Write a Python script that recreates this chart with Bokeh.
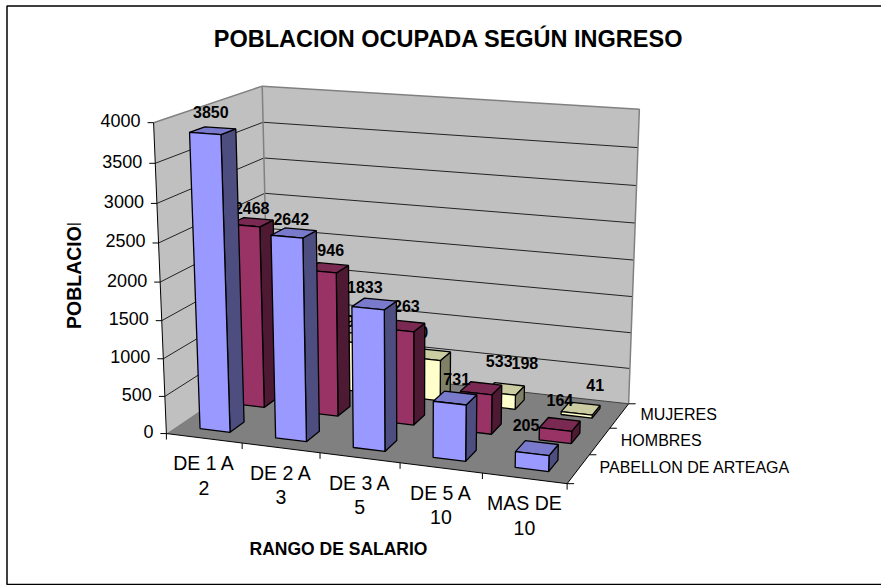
import numpy as np
from bokeh.plotting import figure
from bokeh.models import Range1d
from bokeh.embed import file_html
from bokeh.resources import INLINE
from bokeh.core.properties import value

TITLE = "POBLACION OCUPADA SEGÚN INGRESO"
XTITLE = "RANGO DE SALARIO"
YTITLE = "POBLACION"
CATEGORIES = ["DE 1 A\n2", "DE 2 A\n3", "DE 3 A\n5", "DE 5 A\n10", "MAS DE\n10"]
SERIES = ["PABELLON DE ARTEAGA", "HOMBRES", "MUJERES"]
PABELLON = [3850, 2642, 1833, 731, 205]
HOMBRES = [2468, 1946, 1263, 533, 164]
MUJERES = [1382, 696, 570, 198, 41]
YTICKS = [0, 500, 1000, 1500, 2000, 2500, 3000, 3500, 4000]
YMAX = 4000

VALUES = [PABELLON, HOMBRES, MUJERES]
COLORS = [("#9999FF", "#4D4D80", "#7A7ACC"),
          ("#993366", "#4D1933", "#7A2952"),
          ("#FFFFCC", "#808066", "#CCCCA3")]
# nudges of the value labels, which the reference places unevenly (pixels)
LABEL_SHIFT = [[(-2, -2), (-2.5, 3), (-9.5, 0), (1.5, -2), (-11, -6)],
               [(0, 3), (-1, -1), (-2, -3), (18, -10), (0, -7)],
               [(0, 0), (-8, 0), (-16, -6), (20, -9), (14.5, -6)]]
FONT = value("Liberation Sans")
TICK_FS, LABEL_FS, TITLE_FS, AX_FS, SER_FS, CAT_FS = "18px", "16px", "23.5px", "17.5px", "16px", "19.5px"

# perspective camera fitted to the corners of the chart box (cat, depth, value fraction)
nc, ns = len(CATEGORIES), len(SERIES)
world = [(0, 0, 0), (nc, 0, 0), (nc, ns, 0), (0, ns, 0), (0, 0, 1), (nc, 0, 1), (nc, ns, 1), (0, ns, 1)]
screen = [(166, 432), (567, 484), (628, 402), (268, 365), (153, 120), (575, 154), (639, 107), (262, 87)]
A, b = [], []
for (X, Y, Z), (sx, sy) in zip(world, screen):
    A.append([X, Y, Z, 1, 0, 0, 0, 0, -sx * X, -sx * Y, -sx * Z]); b.append(sx)
    A.append([0, 0, 0, 0, X, Y, Z, 1, -sy * X, -sy * Y, -sy * Z]); b.append(sy)
sol = np.linalg.lstsq(np.array(A, float), np.array(b, float), rcond=None)[0]
P = np.append(sol, 1.0).reshape(3, 4)


def proj(c, d, val=0.0):
    q = P @ np.array([c, d, val / YMAX, 1.0])
    return float(q[0] / q[2]), float(q[1] / q[2])


def poly(*pts):
    xy = [proj(*t) for t in pts]
    return [a for a, _ in xy], [b_ for _, b_ in xy]


p = figure(width=881, height=585, output_backend="svg", toolbar_location=None,
           x_range=Range1d(0, 881), y_range=Range1d(585, 0), min_border=0,
           x_axis_type=None, y_axis_type=None, outline_line_color=None,
           background_fill_color="white", border_fill_color="white")
p.grid.visible = False

# outer frame (its right side falls outside the picture)
p.patch([6.5, 890, 890, 6.5], [5.5, 5.5, 584, 584], fill_color="white", line_color="black", line_width=1.5)

# walls and floor
x, y = poly((0, 0, 0), (0, ns, 0), (0, ns, YMAX), (0, 0, YMAX))
p.patch(x, y, fill_color="#C0C0C0", line_color=None)
x, y = poly((0, ns, 0), (nc, ns, 0), (nc, ns, YMAX), (0, ns, YMAX))
p.patch(x, y, fill_color="#C0C0C0", line_color=None)
x, y = poly((0, 0, 0), (nc, 0, 0), (nc, ns, 0), (0, ns, 0))
p.patch(x, y, fill_color="#808080", line_color=None)

for t in YTICKS[1:-1]:
    x, y = poly((0, 0, t), (0, ns, t), (nc, ns, t))
    p.line(x, y, line_color="#222222", line_width=1)
x, y = poly((0, 0, YMAX), (0, ns, YMAX), (nc, ns, YMAX), (nc, ns, 0))
p.line(x, y, line_color="#808080", line_width=1.5)
x, y = poly((0, ns, YMAX), (0, ns, 0))
p.line(x, y, line_color="#808080", line_width=1.5)
x, y = poly((0, ns, 0), (nc, ns, 0))
p.line(x, y, line_color="#404040", line_width=1)

# axes lines and ticks
x, y = poly((0, 0, YMAX), (0, 0, 0), (nc, 0, 0), (nc, ns, 0))
p.line(x, y, line_color="black", line_width=1)
for t in YTICKS:
    sx, sy = proj(0, 0, t)
    p.line([sx - 6, sx], [sy, sy], line_color="black", line_width=1)
    p.text([sx - 13], [sy - 2], text=[str(t)], text_font=FONT, text_font_size=TICK_FS,
           text_align="right", text_baseline="middle", text_color="black")
for i in range(nc + 1):
    sx, sy = proj(i, 0, 0)
    p.line([sx, sx], [sy, sy + 6], line_color="black", line_width=1)
for i, cat in enumerate(CATEGORIES):
    sx, sy = proj(i + 0.5, 0, 0)
    for k, line in enumerate(cat.split("\n")):
        p.text([sx], [sy + 25 + 24.5 * k], text=[line], text_font=FONT, text_font_size=CAT_FS,
               text_align="center", text_baseline="middle", text_color="black")
for s in range(ns + 1):
    sx, sy = proj(nc, s, 0)
    p.line([sx, sx + 7], [sy, sy], line_color="black", line_width=1)
for s, name in enumerate(SERIES):
    sx, sy = proj(nc, s + 0.5, 0)
    p.text([sx + 21], [sy - 1], text=[name], text_font=FONT, text_font_size=SER_FS,
           text_align="left", text_baseline="middle", text_color="black")

# bars, back series first, each with its labels so nearer bars can cover them
W0, W1 = 0.3, 0.7
for s in reversed(range(ns)):
    front, side, top = COLORS[s]
    for i, v in enumerate(VALUES[s]):
        c0, c1, d0, d1 = i + W0, i + W1, s + W0, s + W1
        x, y = poly((c1, d0, 0), (c1, d1, 0), (c1, d1, v), (c1, d0, v))
        p.patch(x, y, fill_color=side, line_color="black", line_width=1.3)
        x, y = poly((c0, d0, v), (c1, d0, v), (c1, d1, v), (c0, d1, v))
        p.patch(x, y, fill_color=top, line_color="black", line_width=1.3)
        x, y = poly((c0, d0, 0), (c1, d0, 0), (c1, d0, v), (c0, d0, v))
        p.patch(x, y, fill_color=front, line_color="black", line_width=1.3)
    for i, v in enumerate(VALUES[s]):
        sx, sy = proj(i + 0.5, s + 0.5, v)
        dx, dy = LABEL_SHIFT[s][i]
        p.text([sx + dx], [sy - 17 + dy], text=[str(v)], text_font=FONT, text_font_size=LABEL_FS, text_font_style="bold",
               text_align="center", text_baseline="middle", text_color="black")

# titles
p.text([448], [38], text=[TITLE], text_font=FONT, text_font_size=TITLE_FS, text_font_style="bold",
       text_align="center", text_baseline="middle", text_color="black")
p.text([338], [548], text=[XTITLE], text_font=FONT, text_font_size=AX_FS, text_font_style="bold",
       text_align="center", text_baseline="middle", text_color="black")
p.text([73.5], [270], text=[YTITLE], angle=[np.pi / 2], text_font=FONT, text_font_size="19.5px", text_font_style="bold",
       text_align="center", text_baseline="middle", text_color="black")
# the reference cuts the end of the vertical title
p.patch([60, 88, 88, 60], [208, 208, 223, 223], fill_color="white", line_color=None)

open("out.html", "w").write(file_html(p, INLINE))
